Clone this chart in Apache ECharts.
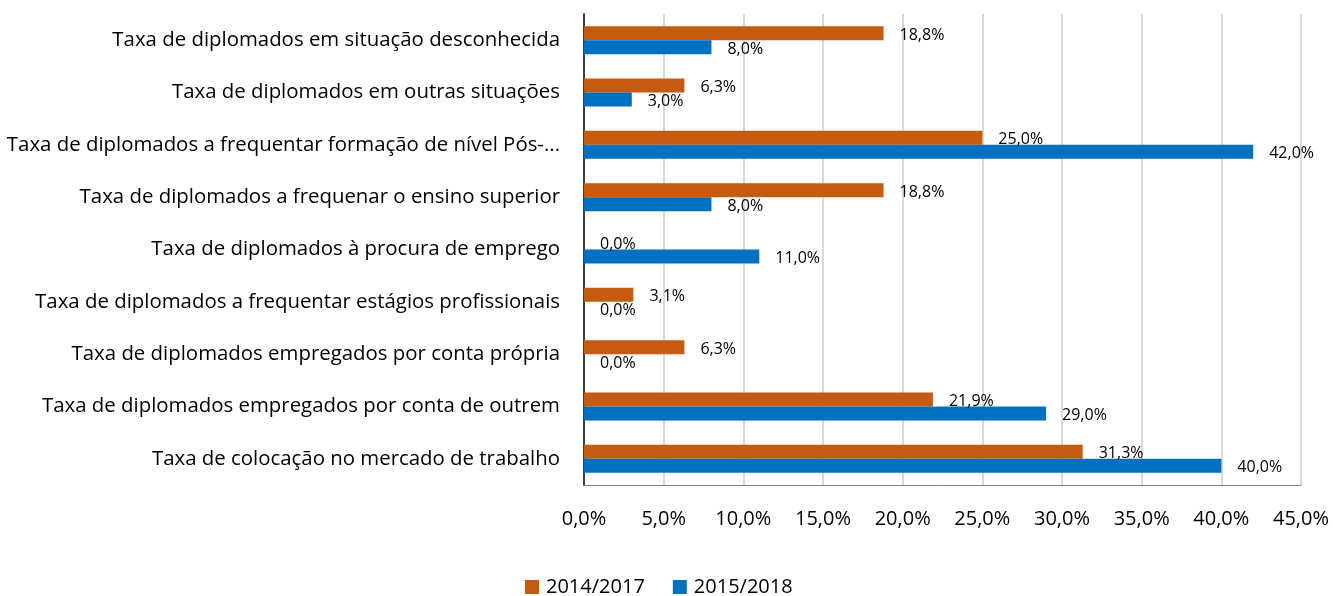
<!DOCTYPE html>
<html lang="pt">
<head>
    <meta charset="UTF-8">
    <title>Taxas de diplomados</title>
    <script src="https://cdn.jsdelivr.net/npm/echarts@6/dist/echarts.min.js"></script>
    <style>
        html, body { margin: 0; padding: 0; background: #fff; }
        #main { width: 1333px; height: 596px; }
    </style>
</head>
<body>
<div id="main"></div>
<script>
    // categorias de baixo para cima
    var categorias = [
        'Taxa de colocação no mercado de trabalho',
        'Taxa de diplomados empregados por conta de outrem',
        'Taxa de diplomados empregados por conta própria',
        'Taxa de diplomados a frequentar estágios profissionais',
        'Taxa de diplomados à procura de emprego',
        'Taxa de diplomados a frequenar o ensino superior',
        'Taxa de diplomados a frequentar formação de nível Pós-...',
        'Taxa de diplomados em outras situações',
        'Taxa de diplomados em situação desconhecida'
    ];
    var serie2014 = [31.3, 21.9, 6.3, 3.1, 0.0, 18.8, 25.0, 6.3, 18.8];
    var serie2015 = [40.0, 29.0, 0.0, 0.0, 11.0, 8.0, 42.0, 3.0, 8.0];
    var nomes = ['2014/2017', '2015/2018'];

    function pct(v) {
        return Number(v).toFixed(1).replace('.', ',') + '%';
    }

    var fonte = 'Open Sans, Noto Sans, sans-serif';
    var rotulo = {
        show: true,
        position: 'right',
        distance: 16,
        offset: [0, 2],
        fontSize: 16,
        fontFamily: fonte,
        color: '#000',
        formatter: function (p) { return pct(p.value); }
    };

    var myChart = echarts.init(document.getElementById('main'));
    var option = {
        animation: false,
        grid: { left: 584, right: 32, top: 14, bottom: 111, containLabel: false },
        legend: {
            data: nomes,
            top: 572,
            left: 520,
            itemWidth: 14,
            itemHeight: 14,
            itemGap: 28,
            icon: 'rect',
            textStyle: { fontSize: 20, fontFamily: fonte, color: '#000', padding: [0, 0, 0, 2] }
        },
        xAxis: {
            type: 'value',
            min: 0,
            max: 45,
            interval: 5,
            axisLine: { show: true, lineStyle: { color: '#7f7f7f', width: 1 } },
            axisTick: { show: false },
            splitLine: { show: true, lineStyle: { color: '#d9d9d9', width: 2 } },
            axisLabel: {
                margin: 24,
                fontSize: 20,
                fontFamily: fonte,
                color: '#000',
                formatter: pct
            }
        },
        yAxis: {
            type: 'category',
            data: categorias,
            axisLine: { show: true, lineStyle: { color: '#404040', width: 2 } },
            axisTick: { show: false },
            axisLabel: {
                margin: 24,
                fontSize: 20.4,
                fontFamily: fonte,
                color: '#000'
            }
        },
        series: [
            {
                name: nomes[0],
                type: 'bar',
                data: serie2014,
                barWidth: 14,
                barGap: '0%',
                itemStyle: { color: '#C55A11' },
                label: rotulo
            },
            {
                name: nomes[1],
                type: 'bar',
                data: serie2015,
                barWidth: 14,
                barGap: '0%',
                itemStyle: { color: '#0070C0' },
                label: rotulo
            }
        ]
    };
    myChart.setOption(option);
</script>
</body>
</html>
